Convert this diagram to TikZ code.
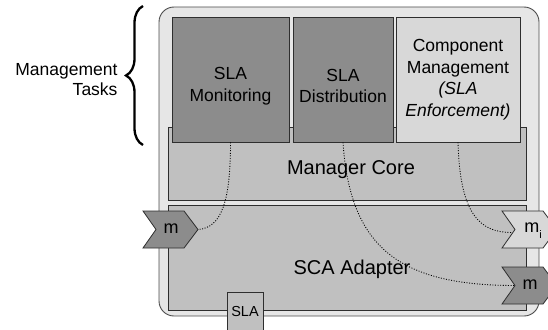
\documentclass[tikz,border=0pt]{standalone}
\usepackage{fontspec}
\setmainfont{Liberation Sans}
\usetikzlibrary{decorations.pathreplacing}

\definecolor{shellgray}{HTML}{E6E6E6}
\definecolor{coregray}{HTML}{C0C0C0}
\definecolor{taskdark}{HTML}{8C8C8C}
\definecolor{tasklight}{HTML}{D8D8D8}
\definecolor{edgegray}{HTML}{2E2E2E}

\tikzset{
  boxline/.style={draw=edgegray, line width=0.8pt},
  taskbox/.style={boxline, rectangle, inner sep=0pt},
  tasktext/.style={align=center, font=\fontsize{17.5}{21.5}\selectfont},
  bigtext/.style={font=\fontsize{20}{24}\selectfont},
  porttext/.style={font=\fontsize{18}{20}\selectfont},
  wire/.style={dash pattern=on 1pt off 1.6pt, line width=0.85pt, black},
}

\begin{document}
\begin{tikzpicture}[x=1pt, y=-1pt]
  \useasboundingbox (0,0) rectangle (548,329);
  \clip (0,0) rectangle (548,329);

  % outer container
  \draw[fill=shellgray, draw=black!70, line width=0.9pt, rounded corners=15pt]
    (159,7) rectangle (539,316);

  % manager core and adapter layers
  \node[taskbox, fill=coregray, minimum width=358pt, minimum height=73pt] (core) at (347,163.5) {};
  \node[taskbox, fill=coregray, minimum width=358pt, minimum height=105pt] (adapter) at (347,257.5) {};

  % management task boxes
  \node[taskbox, fill=taskdark, minimum width=117pt, minimum height=125pt] (mon) at (230.5,79.5) {};
  \node[taskbox, fill=taskdark, minimum width=100pt, minimum height=125pt] (dist) at (343,79.5) {};
  \node[taskbox, fill=tasklight, minimum width=124pt, minimum height=125pt] (comp) at (458,79.5) {};

  \node[tasktext] (monlbl) at (230.5,86) {SLA\\Monitoring};
  \node[tasktext] (distlbl) at (343,86) {SLA\\Distribution};
  \node[tasktext] (complbl) at (458,79.5) {Component\\Management\\\textit{(SLA}\\\textit{Enforcement)}};

  \node[bigtext] (corelbl) at (351,170) {Manager Core};
  \node[bigtext] (adaptlbl) at (352,269) {SCA Adapter};

  % ports
  \draw[boxline, fill=taskdark]
    (143,211) -- (184,211) -- (198,229.5) -- (184,248) -- (143,248) -- (156,229.5) -- cycle;
  \coordinate (pleft) at (198,229.5);
  \node[porttext] (mleft) at (171,229) {m};

  \draw[boxline, fill=tasklight]
    (502,211) -- (543,211) -- (557,229.5) -- (543,248) -- (502,248) -- (515,229.5) -- cycle;
  \coordinate (pmi) at (512,232.5);
  \node[porttext] (mi) at (533,231) {m\raisebox{-6pt}{\fontsize{11}{11}\selectfont i}};

  \draw[boxline, fill=taskdark]
    (502,267) -- (543,267) -- (557,285.5) -- (543,304) -- (502,304) -- (515,285.5) -- cycle;
  \coordinate (pm) at (515,285.5);
  \node[porttext] (mright) at (530,285) {m};

  % SLA document at the bottom edge
  \node[taskbox, fill=coregray, minimum width=36pt, minimum height=44pt, anchor=north] (sla) at (245,292) {};
  \node[font=\fontsize{14.5}{16}\selectfont] (slalbl) at (245,312) {SLA};

  % dotted links from tasks to ports
  \draw[wire] (mon.south) .. controls (230.5,200) and (222,228) .. (pleft);
  \draw[wire] (dist.south) .. controls (350,248) and (400,285.5) .. (pm);
  \draw[wire] (comp.south) .. controls (460,215) and (480,232.5) .. (pmi);

  % brace grouping the management tasks
  \draw[decorate, decoration={brace, amplitude=17pt, aspect=0.5}, line width=2.3pt]
    (143,145) -- (143,6);
  \node[align=right, anchor=east, font=\fontsize{17.5}{19.5}\selectfont] (tasks) at (121,79.5)
    {Management\\Tasks};
\end{tikzpicture}
\end{document}
